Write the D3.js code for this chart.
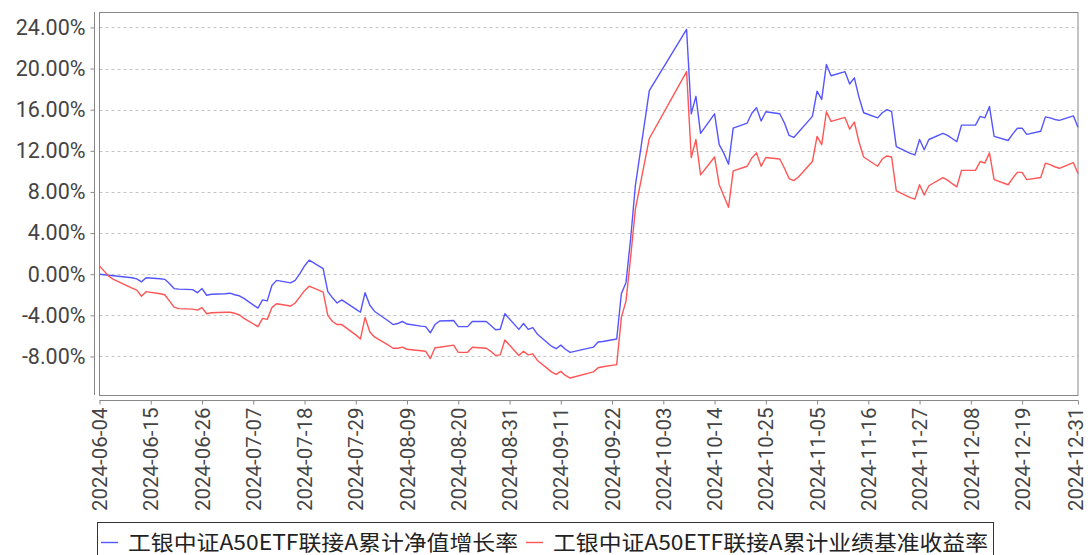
<!DOCTYPE html>
<html><head><meta charset="utf-8">
<script src="https://cdn.jsdelivr.net/npm/d3@7"></script>
<style>body{margin:0;background:#fff}svg{display:block}</style>
</head><body>
<svg id="c" width="1088" height="555"></svg>
<script>
const dates = [
"2024-06-04","2024-06-05","2024-06-06","2024-06-07","2024-06-11","2024-06-12","2024-06-13","2024-06-14","2024-06-17","2024-06-18","2024-06-19","2024-06-20","2024-06-21","2024-06-24","2024-06-25","2024-06-26","2024-06-27","2024-06-28",
"2024-07-01","2024-07-02","2024-07-03","2024-07-04","2024-07-05","2024-07-08","2024-07-09","2024-07-10","2024-07-11","2024-07-12","2024-07-15","2024-07-16","2024-07-17","2024-07-18","2024-07-19","2024-07-22","2024-07-23","2024-07-24","2024-07-25","2024-07-26","2024-07-29","2024-07-30","2024-07-31",
"2024-08-01","2024-08-02","2024-08-05","2024-08-06","2024-08-07","2024-08-08","2024-08-09","2024-08-12","2024-08-13","2024-08-14","2024-08-15","2024-08-16","2024-08-19","2024-08-20","2024-08-21","2024-08-22","2024-08-23","2024-08-26","2024-08-27","2024-08-28","2024-08-29","2024-08-30",
"2024-09-02","2024-09-03","2024-09-04","2024-09-05","2024-09-06","2024-09-09","2024-09-10","2024-09-11","2024-09-12","2024-09-13","2024-09-18","2024-09-19","2024-09-20","2024-09-23","2024-09-24","2024-09-25","2024-09-26","2024-09-27","2024-09-30",
"2024-10-08","2024-10-09","2024-10-10","2024-10-11","2024-10-14","2024-10-15","2024-10-16","2024-10-17","2024-10-18","2024-10-21","2024-10-22","2024-10-23","2024-10-24","2024-10-25","2024-10-28","2024-10-29","2024-10-30","2024-10-31",
"2024-11-01","2024-11-04","2024-11-05","2024-11-06","2024-11-07","2024-11-08","2024-11-11","2024-11-12","2024-11-13","2024-11-14","2024-11-15","2024-11-18","2024-11-19","2024-11-20","2024-11-21","2024-11-22","2024-11-25","2024-11-26","2024-11-27","2024-11-28","2024-11-29",
"2024-12-02","2024-12-03","2024-12-04","2024-12-05","2024-12-06","2024-12-09","2024-12-10","2024-12-11","2024-12-12","2024-12-13","2024-12-16","2024-12-17","2024-12-18","2024-12-19","2024-12-20","2024-12-23","2024-12-24","2024-12-25","2024-12-26","2024-12-27","2024-12-30","2024-12-31"
];
// 工银中证A50ETF联接A累计净值增长率 (%)
const navGrowth = [
0.00,-0.05,-0.10,-0.15,-0.35,-0.45,-0.75,-0.35,-0.45,-0.50,-0.90,-1.40,-1.45,-1.50,-1.80,-1.40,-2.05,-1.95,
-1.90,-1.85,-2.00,-2.10,-2.35,-3.30,-2.50,-2.60,-1.10,-0.60,-0.85,-0.60,0.05,0.80,1.37,0.55,-1.70,-2.30,-2.80,-2.50,-3.40,-3.70,-1.80,
-3.00,-3.60,-4.55,-4.90,-4.80,-4.60,-4.85,-5.05,-5.10,-5.70,-4.90,-4.55,-4.50,-5.10,-5.10,-5.10,-4.60,-4.60,-5.00,-5.40,-5.35,-3.85,
-5.37,-4.80,-5.37,-5.20,-5.85,-7.00,-7.25,-6.90,-7.30,-7.60,-7.10,-6.60,-6.55,-6.30,-1.90,-0.80,3.50,8.60,17.85,
23.80,15.60,17.30,13.70,15.60,12.60,11.75,10.70,14.20,14.70,15.65,16.20,14.90,15.80,15.60,14.70,13.50,13.30,
13.80,15.35,17.80,17.00,20.40,19.30,19.70,18.50,19.10,17.20,15.70,15.20,15.70,16.00,15.80,12.40,11.75,11.60,13.10,12.10,13.10,
13.70,13.50,13.20,12.90,14.50,14.50,15.35,15.20,16.30,13.40,13.00,13.65,14.20,14.20,13.60,13.90,15.30,15.20,15.05,14.96,15.40,14.30
];
// 工银中证A50ETF联接A累计业绩基准收益率 (%)
const benchmark = [
0.80,0.30,-0.20,-0.50,-1.35,-1.55,-2.15,-1.70,-1.90,-2.00,-2.60,-3.20,-3.35,-3.40,-3.50,-3.25,-3.85,-3.75,
-3.70,-3.70,-3.80,-3.95,-4.30,-5.10,-4.30,-4.40,-3.25,-2.87,-3.10,-2.80,-2.20,-1.60,-1.17,-1.75,-4.00,-4.60,-4.90,-4.90,-5.90,-6.30,-4.20,
-5.60,-6.10,-6.90,-7.20,-7.20,-7.10,-7.30,-7.45,-7.50,-8.20,-7.15,-7.10,-6.90,-7.60,-7.60,-7.60,-7.10,-7.20,-7.50,-7.90,-7.85,-6.40,
-7.90,-7.50,-7.85,-7.75,-8.40,-9.50,-9.75,-9.45,-9.85,-10.10,-9.50,-9.10,-9.00,-8.80,-4.20,-2.60,1.70,6.30,13.20,
19.70,11.35,13.10,9.66,11.40,8.70,7.60,6.50,10.05,10.50,11.30,11.80,10.50,11.35,11.20,10.30,9.30,9.10,
9.45,10.96,13.40,12.60,15.80,14.86,15.25,14.10,14.80,12.85,11.40,10.50,11.20,11.50,11.40,8.10,7.45,7.30,8.70,7.70,8.60,
9.40,9.15,8.80,8.50,10.10,10.10,10.96,10.80,11.80,9.20,8.70,9.35,9.90,9.90,9.20,9.40,10.80,10.65,10.45,10.30,10.86,9.80
];
const xTickLabels = ["2024-06-04","2024-06-15","2024-06-26","2024-07-07","2024-07-18","2024-07-29","2024-08-09","2024-08-20","2024-08-31","2024-09-11","2024-09-22","2024-10-03","2024-10-14","2024-10-25","2024-11-05","2024-11-16","2024-11-27","2024-12-08","2024-12-19","2024-12-31"];
const yTickValues = [-8,-4,0,4,8,12,16,20,24];
const seriesNames = ["工银中证A50ETF联接A累计净值增长率","工银中证A50ETF联接A累计业绩基准收益率"];
const seriesColors = ["#5555ff","#ff5555"];

const parse = d3.timeParse("%Y-%m-%d");
const svg = d3.select("#c");
const plot = {l:99.5, r:1078, t:12, b:395};
const x = d3.scaleTime().domain([parse("2024-06-04"), parse("2024-12-31")]).range([plot.l, plot.r]);
const y = d3.scaleLinear().domain([-11.75, 25.5]).range([plot.b, plot.t]);

// gridlines
svg.append("g").selectAll("line").data(yTickValues).join("line")
  .attr("x1", plot.l).attr("x2", plot.r)
  .attr("y1", d => Math.round(y(d))+0.5).attr("y2", d => Math.round(y(d))+0.5)
  .attr("stroke", "#c4c4c4").attr("stroke-width", 1).attr("stroke-dasharray", "3,3");

// plot outline
svg.append("rect").attr("x", plot.l).attr("y", plot.t+0.5).attr("width", plot.r-plot.l).attr("height", plot.b-plot.t)
  .attr("fill", "none").attr("stroke", "#888").attr("stroke-width", 1);

// y axis
const yAxis = d3.axisLeft(y).tickValues(yTickValues).tickFormat(d => d.toFixed(2) + "%").tickSizeOuter(0).tickSize(4).tickPadding(5);
const gy = svg.append("g").attr("transform", "translate(94.5,0)").call(yAxis);
gy.select(".domain").attr("stroke", "#888").attr("d", `M0,${plot.t}V${plot.b}`);
gy.selectAll(".tick line").attr("stroke", "#888");
gy.selectAll("text").attr("fill", "#444").style("font-family", "Roboto, sans-serif").style("font-size", "21.5px");

// x axis
const xAxis = d3.axisBottom(x).tickValues(xTickLabels.map(parse)).tickFormat(d3.timeFormat("%Y-%m-%d")).tickSizeOuter(0).tickSize(4);
const gx = svg.append("g").attr("transform", "translate(0,400.5)").call(xAxis);
gx.select(".domain").attr("stroke", "#888").attr("d", `M${plot.l},0H${plot.r}`);
gx.selectAll(".tick line").attr("stroke", "#888");
gx.selectAll("text").attr("fill", "#444").style("font-family", "Roboto, sans-serif").style("font-size", "20.5px")
  .attr("transform", "rotate(-90)").attr("text-anchor", "end").attr("x", -7)
  .attr("y", (d, i) => i === xTickLabels.length - 1 ? -2.5 : 0).attr("dy", "0.35em");

// lines
const line = vals => d3.line().x((d,i) => x(parse(dates[i]))).y(d => y(d))(vals);
[navGrowth, benchmark].forEach((vals, k) => {
  svg.append("path").attr("d", line(vals)).attr("fill", "none")
    .attr("stroke", seriesColors[k]).attr("stroke-width", 1.4).attr("stroke-linejoin", "round");
});

// legend
const lg = svg.append("g");
lg.append("rect").attr("x", 97.5).attr("y", 522.5).attr("width", 896).attr("height", 50)
  .attr("fill", "#fff").attr("stroke", "#333").attr("stroke-width", 1);
const legendTextX = [128, 553];
const legendTextW = [390, 435];
seriesNames.forEach((name, k) => {
  lg.append("line").attr("x1", legendTextX[k]-27).attr("x2", legendTextX[k]-10).attr("y1", 542.5).attr("y2", 542.5)
    .attr("stroke", seriesColors[k]).attr("stroke-width", 1.4);
  lg.append("text").attr("x", legendTextX[k]).attr("y", 550).text(name)
    .attr("textLength", legendTextW[k]).attr("lengthAdjust", "spacingAndGlyphs")
    .attr("fill", "#222").style("font-family", "'Noto Sans CJK SC', sans-serif").style("font-size", "21px");
});
</script>
</body></html>
